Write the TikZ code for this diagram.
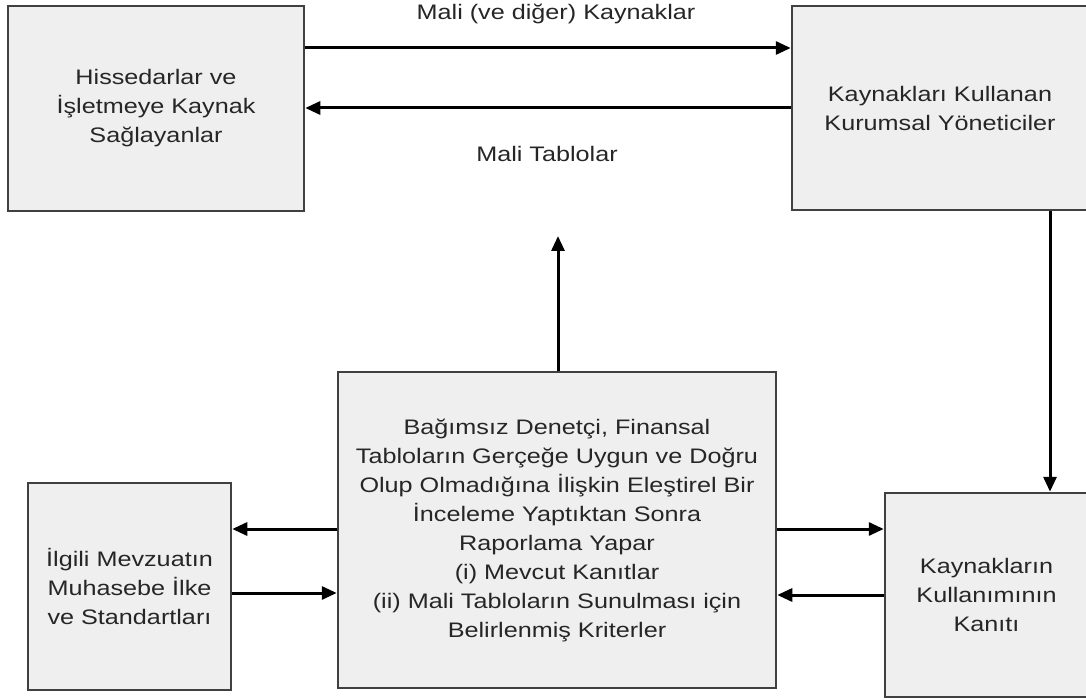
\documentclass[tikz,border=0pt]{standalone}
\usepackage{fontspec}
\setmainfont{Liberation Sans}[FakeStretch=1.2]
\usetikzlibrary{arrows.meta}
\definecolor{boxfill}{HTML}{EFEFEF}
\definecolor{boxline}{HTML}{404040}
\definecolor{txt}{HTML}{262626}
\begin{document}
\begin{tikzpicture}[x=1pt,y=-1pt,
  box/.style={draw=boxline, line width=2.5pt, fill=boxfill, text=txt,
    align=center, inner sep=0pt, font=\fontsize{21}{29}\selectfont},
  lbl/.style={text=txt, inner sep=0pt, font=\fontsize{21}{29}\selectfont},
  arr/.style={draw=black, line width=3pt,
    -{Triangle[length=15pt,width=13pt]}}]
\useasboundingbox (0,0) rectangle (1086,700);
\fill[white] (0,0) rectangle (1086,700);

% top row
\node[box, minimum width=296pt, minimum height=205pt] (hs) at (156,108.5)
  {Hissedarlar ve\\İşletmeye Kaynak\\Sağlayanlar};
\node[box, minimum width=296pt, minimum height=204pt] (ky) at (940,108)
  {Kaynakları Kullanan\\Kurumsal Yöneticiler};

% bottom row
\node[box, minimum width=203pt, minimum height=207pt] (mv) at (129.5,586.5)
  {İlgili Mevzuatın\\Muhasebe İlke\\ve Standartları};
\node[box, minimum width=438pt, minimum height=316pt] (dn) at (557,530)
  {Bağımsız Denetçi, Finansal\\Tabloların Gerçeğe Uygun ve Doğru\\Olup Olmadığına İlişkin Eleştirel Bir\\İnceleme Yaptıktan Sonra\\Raporlama Yapar\\(i) Mevcut Kanıtlar\\(ii) Mali Tabloların Sunulması için\\Belirlenmiş Kriterler};
\node[box, minimum width=203pt, minimum height=204pt] (kn) at (986.5,595)
  {Kaynakların\\Kullanımının\\Kanıtı};

% labels on the top arrows
\node[lbl] (lk) at (556,14) {Mali (ve diğer) Kaynaklar};
\node[lbl] (lt) at (547,154) {Mali Tablolar};

% connectors
\draw[arr] (hs.east |- 0,48) -- (ky.west |- 0,48);
\draw[arr] (ky.west |- 0,108) -- (hs.east |- 0,108);
\coordinate (up) at (558,236);
\draw[arr] (dn.north -| up) -- (up);
\draw[arr] (ky.south -| 1050,0) -- (kn.north -| 1050,0);
\draw[arr] (dn.west |- 0,529) -- (mv.east |- 0,529);
\draw[arr] (mv.east |- 0,593) -- (dn.west |- 0,593);
\draw[arr] (dn.east |- 0,529) -- (kn.west |- 0,529);
\draw[arr] (kn.west |- 0,595) -- (dn.east |- 0,595);
\end{tikzpicture}
\end{document}
